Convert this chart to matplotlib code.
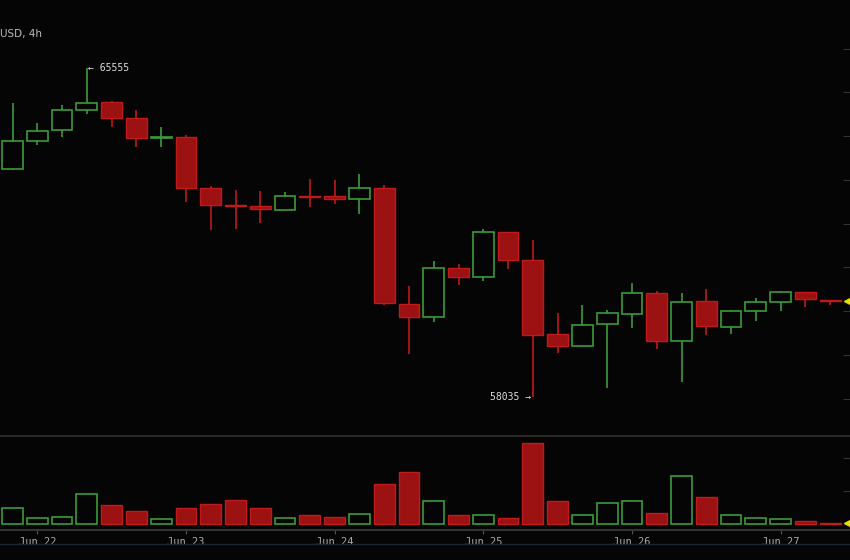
import numpy as np
import matplotlib.pyplot as plt
from matplotlib.patches import Rectangle

# BTC/USD 4h candles, Jun 21 20:00 -> Jun 27 08:00
opens = [63246, 63886, 64137, 64594, 64777, 64411, 63954, 63977, 62811, 62423,
         62400, 62309, 62629, 62629, 62560, 62811, 60160, 59863, 60983, 60777,
         61806, 61166, 59474, 59200, 59703, 59931, 60411, 59314, 60229, 59634,
         60000, 60206, 60434, 60251]
highs = [64754, 64297, 64709, 65555, 64800, 64594, 64206, 64023, 62857, 62766,
         62743, 62720, 63017, 62994, 63131, 62880, 60571, 61143, 61074, 61874,
         61806, 61623, 59954, 60137, 60023, 60640, 60457, 60411, 60503, 60023,
         60297, 60457, 60434, 60251]
lows = [63230, 63794, 63977, 64503, 64206, 63749, 63749, 62491, 61851, 61874,
        62011, 62309, 62377, 62446, 62217, 60137, 59017, 59749, 60594, 60686,
        60960, 58035, 59040, 59200, 58240, 59611, 59131, 58377, 59451, 59474,
        59771, 60000, 60091, 60137]
closes = [63886, 64114, 64594, 64754, 64411, 63954, 63977, 62811, 62423, 62400,
          62331, 62629, 62606, 62560, 62811, 60183, 59863, 60983, 60777, 61806,
          61166, 59451, 59200, 59680, 59954, 60411, 59314, 60206, 59657, 60000,
          60206, 60434, 60274, 60229]
volumes = [485, 180, 210, 910, 575, 395, 150, 485, 605, 725,
           485, 180, 270, 210, 300, 1210, 1575, 695, 270, 270,
           180, 2455, 695, 270, 635, 695, 335, 1455, 820, 270,
           180, 150, 90, 30]
day_labels = ["Jun 22", "Jun 23", "Jun 24", "Jun 25", "Jun 26", "Jun 27"]
day_index = [1, 7, 13, 19, 25, 31]

green = "#3a9a3a"
red_fill = "#9c1111"
red_edge = "#c01a1a"
bg = "#050505"

fig = plt.figure(figsize=(8.5, 5.6), dpi=100, facecolor=bg)
ax = fig.add_axes([0, 124 / 560, 1, 436 / 560], facecolor=bg)
axv = fig.add_axes([0, 30 / 560, 1, 94 / 560], facecolor=bg)

w = 0.84
for i in range(len(opens)):
    o, h, l, c = opens[i], highs[i], lows[i], closes[i]
    up = c >= o
    col = green if up else red_edge
    ax.vlines(i, l, h, color=col, lw=1.2, zorder=1)
    lo, hi = min(o, c), max(o, c)
    if up:
        ax.add_patch(Rectangle((i - w / 2, lo), w, max(hi - lo, 10), facecolor=bg,
                               edgecolor=green, lw=1.2, zorder=2))
        axv.add_patch(Rectangle((i - w / 2, 0), w, volumes[i], facecolor=bg,
                                edgecolor=green, lw=1.2))
    else:
        ax.add_patch(Rectangle((i - w / 2, lo), w, max(hi - lo, 10), facecolor=red_fill,
                               edgecolor=red_edge, lw=1.0, zorder=2))
        axv.add_patch(Rectangle((i - w / 2, 0), w, volumes[i], facecolor=red_fill,
                                edgecolor=red_edge, lw=1.0))

xl = (-0.505, 33.8)
ax.set_xlim(*xl)
ax.set_ylim(57143, 67109)
axv.set_xlim(*xl)
axv.set_ylim(-182, 2667)

# high / low labels
ih = int(np.argmax(highs))
il = int(np.argmin(lows))
ax.text(ih + 0.05, highs[ih], "\u2190 %d" % highs[ih], color="#dddddd", fontsize=7,
        family="DejaVu Sans Mono", va="center", ha="left")
ax.text(il - 0.05, lows[il], "%d \u2192" % lows[il], color="#dddddd", fontsize=7,
        family="DejaVu Sans Mono", va="center", ha="right")

# last price markers
ax.plot(33.68, closes[-1], marker="<", color="#e8e000", ms=4, clip_on=False)
axv.plot(33.68, volumes[-1], marker="<", color="#e8e000", ms=4, clip_on=False)

ax.set_yticks(np.arange(58000, 67000, 1000))
ax.yaxis.tick_right()
ax.tick_params(axis="y", direction="in", length=5, color="#333333", labelright=False,
               labelleft=False)
ax.set_xticks([])
for s in ax.spines.values():
    s.set_visible(False)

axv.set_yticks([1000, 2000])
axv.yaxis.tick_right()
axv.tick_params(axis="y", direction="in", length=5, color="#333333", labelright=False,
                labelleft=False)
axv.set_xticks(day_index)
axv.set_xticklabels(day_labels, family="DejaVu Sans Mono")
axv.tick_params(axis="x", direction="out", length=3, color="#555555", pad=2,
                labelcolor="#aaaaaa", labelsize=7.5)
for k in ["left", "right"]:
    axv.spines[k].set_visible(False)
axv.spines["top"].set_color("#2a2a2a")
axv.spines["top"].set_linewidth(1.5)
axv.spines["bottom"].set_color("#333333")
axv.spines["bottom"].set_linewidth(1.5)

fig.add_artist(plt.Line2D([0, 1], [16 / 560, 16 / 560], color="#1c2530", lw=1))
fig.text(0, 1 - 34 / 560, "USD, 4h", color="#bbbbbb", fontsize=7.5, va="center", ha="left")

plt.savefig("out.png", facecolor=bg)
